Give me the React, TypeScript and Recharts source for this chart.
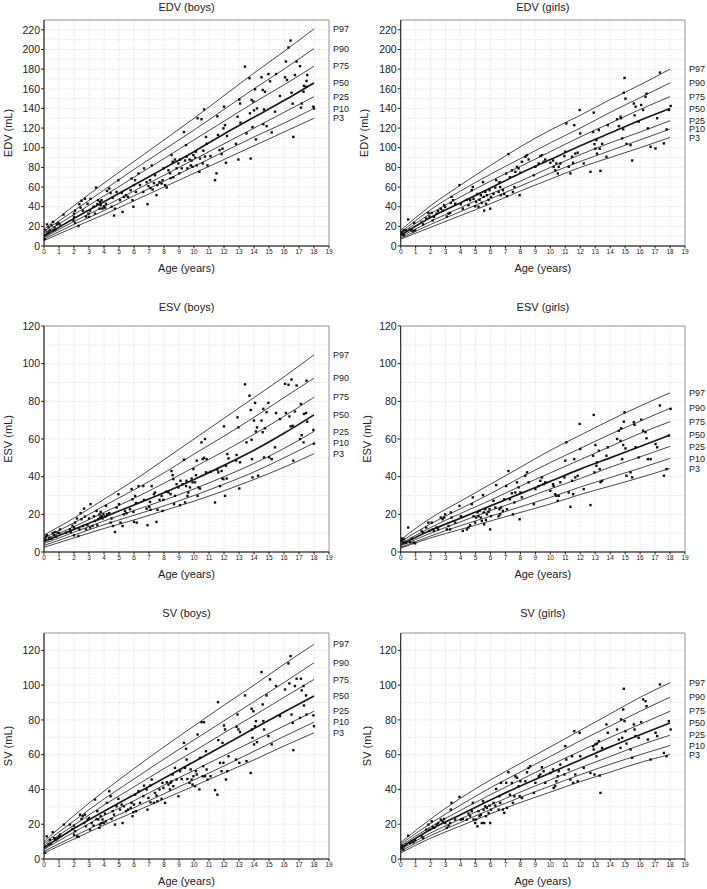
import React from "react";
import { ComposedChart, Line, Scatter, XAxis, YAxis, CartesianGrid, ReferenceArea, ReferenceDot } from "recharts";

const curveAges = [0, 2, 4, 6, 8, 10, 12, 14, 16, 18];
const pctNames = ["P97", "P90", "P75", "P50", "P25", "P10", "P3"];
const pctKeys = ["p97", "p90", "p75", "p50", "p25", "p10", "p3"];
const xTicks = [0, 1, 2, 3, 4, 5, 6, 7, 8, 9, 10, 11, 12, 13, 14, 15, 16, 17, 18, 19];

// curves, rows in order P97 .. P3
const edvBoysCurves = [
  [17, 41, 64, 86, 108, 130, 153, 176, 198, 221],
  [15, 36, 57, 78, 98, 118, 139, 160, 180, 201],
  [13, 32, 51, 70, 89, 108, 127, 146, 164, 183],
  [10, 28, 45, 62, 79, 96, 114, 131, 148, 166],
  [8.5, 25, 40, 56, 72, 88, 104, 120, 136, 152],
  [7, 22, 36, 51, 66, 81, 96, 111, 125, 140],
  [5.5, 19, 32, 46, 60, 74, 88, 102, 116, 130],
];
const edvGirlsCurves = [
  [16, 41, 62, 82, 101, 118, 133, 149, 164, 180],
  [14, 37, 56, 73, 89, 105, 120, 136, 151, 166],
  [12.5, 33, 50, 66, 81, 96, 111, 125, 139, 152],
  [11, 29, 44, 59, 74, 88, 102, 115, 128, 140],
  [9.5, 25, 39, 53, 66, 80, 93, 105, 116, 127.5],
  [8, 22, 35, 48, 61, 74, 86, 97, 108, 119],
  [7, 19, 31, 43, 56, 68, 80, 90, 100, 110.5],
];
const esvBoysCurves = [
  [9, 18, 28, 38, 49, 60, 71, 82, 93, 104.7],
  [7.5, 15.5, 24.5, 33, 42, 52, 61.5, 71.5, 82, 92.3],
  [6.5, 13.5, 21, 28.5, 36.5, 45, 53.5, 62.5, 72, 82.2],
  [5.5, 12, 18.5, 25, 31.5, 38.5, 46, 54, 63, 72.8],
  [4.5, 10.5, 16.5, 22, 27.5, 33.5, 40, 47, 55, 64],
  [3.5, 9, 14.5, 19.5, 24.5, 30, 36, 42.5, 50, 57.9],
  [2.5, 7.5, 12.5, 17, 22, 27, 32.5, 38.5, 45, 52.2],
];
const esvGirlsCurves = [
  [6.5, 18, 27, 36, 45, 54, 62, 70, 77.5, 84.5],
  [5.5, 15, 23, 31, 39.5, 47.5, 55, 62.5, 69.5, 76.3],
  [4.5, 13, 20.5, 27.5, 35, 42, 49, 56, 63, 69.2],
  [3.8, 11.5, 18, 24.5, 31, 37.5, 44, 50, 56, 62.1],
  [3.2, 10, 16, 22, 27.5, 33.5, 39, 45, 50.5, 56.1],
  [2.5, 8.5, 14, 19, 24, 29, 34.5, 39.5, 44.5, 49.7],
  [2, 7.5, 12, 16.5, 21, 25.5, 30.5, 35, 39.5, 44.4],
];
const svBoysCurves = [
  [10, 25, 39, 52, 64.5, 76.5, 88.5, 100, 112, 123.5],
  [9, 22, 34.5, 46, 57.5, 68.5, 79.5, 90.5, 101.5, 112.9],
  [8, 19.5, 31, 41.5, 52, 62, 72.5, 82.5, 93, 103.3],
  [6.5, 17.5, 27.5, 37, 46.5, 56, 65.5, 75, 84.5, 93.7],
  [5.5, 15.5, 25, 33.5, 42.5, 51, 59.5, 68, 76.5, 85],
  [4.5, 13, 21.5, 29.5, 37.5, 45.5, 53.5, 62, 70.5, 78.7],
  [3.5, 11.5, 19.5, 27, 34.5, 42, 49.5, 57, 65, 72.6],
];
const svGirlsCurves = [
  [9.5, 23, 35, 45.5, 55, 64.5, 74, 83.5, 93, 101.4],
  [8.5, 20.5, 31, 41, 50, 59, 68, 76.5, 85, 93.1],
  [7.5, 18.5, 28, 37, 45.5, 54, 62, 70, 77.5, 85],
  [6.5, 17, 25.5, 34, 42, 49.5, 57, 64.5, 71.5, 78.3],
  [5.5, 15, 23, 31, 38.5, 45.5, 52.5, 59, 65.5, 71.2],
  [4.5, 13.5, 21, 28.5, 35.5, 42, 48.5, 54.5, 60, 65.3],
  [3.5, 12, 19, 26, 32.5, 38.5, 44.5, 50, 55.5, 60.1],
];

// measured points [age, mL]
const edvBoysPts: [number, number][] = [
  [0.07, 11], [0.1, 16], [0.2, 22], [0.3, 19], [0.4, 16], [0.5, 21], [0.6, 24.5], [0.7, 19], [0.75, 16.7], [0.85, 22],
  [0.95, 23.5], [1.05, 22], [0.2, 12.6], [0.3, 14], [0.6, 16], [0.05, 7], [1.3, 32], [2, 29.6], [2, 33], [2.07, 36],
  [1.96, 26], [2.07, 23.5], [2.3, 20.4], [2.36, 42.5], [2.44, 39], [2.5, 46], [2.6, 36], [2.73, 48], [2.8, 30], [2.9, 43],
  [2.96, 33], [3, 29.6], [3.07, 36], [3.1, 48], [3.3, 40], [3.4, 33], [3.47, 59.5], [3.55, 42.5], [3.6, 46.6], [3.7, 38],
  [3.73, 45], [3.78, 41.5], [3.84, 46.6], [3.9, 38], [4, 40.5], [4.07, 39], [4.13, 43], [4.2, 56], [4.35, 58.5], [4.44, 54],
  [4.5, 40], [4.58, 49], [4.67, 31], [4.73, 38], [4.84, 55], [4.96, 67], [5.07, 46.6], [5.18, 54], [5.24, 34.7], [5.33, 50],
  [5.47, 51.7], [5.6, 50], [5.78, 56.8], [5.84, 68.7], [5.9, 46.6], [5.96, 40], [6, 62], [6.07, 67], [6.13, 55], [6.3, 73.8],
  [6.4, 62], [6.62, 55], [6.67, 79], [6.84, 65], [6.9, 42.5], [6.96, 61], [7.07, 67], [7.1, 59], [7.18, 82], [7.24, 57.5],
  [7.33, 64], [7.4, 72], [7.5, 51.7], [7.56, 62], [7.7, 65], [7.84, 63.6], [7.9, 67], [7.96, 79], [8.07, 62], [8.18, 59.5],
  [8.3, 77], [8.4, 74], [8.44, 69], [8.5, 92.5], [8.58, 85.7], [8.62, 70], [8.73, 88], [8.84, 79], [8.96, 84], [9.02, 74],
  [9.07, 88], [9.18, 79], [9.33, 116], [9.4, 87], [9.47, 102.7], [9.51, 91], [9.56, 79], [9.7, 88], [9.78, 82], [9.84, 87],
  [9.9, 80.6], [9.96, 92.5], [10.07, 90], [10.13, 96], [10.18, 82], [10.24, 130], [10.36, 75.5], [10.4, 89], [10.5, 129], [10.58, 84],
  [10.62, 97], [10.67, 139], [10.73, 91], [10.8, 111], [10.84, 104], [10.9, 82], [11.1, 91.5], [11.4, 67], [11.5, 74], [11.56, 132],
  [11.6, 113], [11.7, 97.6], [11.84, 93.5], [11.9, 99], [11.96, 119.7], [12, 141.8], [12.07, 123], [12.13, 84.7], [12.2, 112], [12.8, 104],
  [12.9, 131.6], [12.96, 88], [13.02, 149], [13.07, 145], [13.1, 125.5], [13.4, 182.6], [13.5, 114.6], [13.7, 170.7], [13.73, 135], [13.78, 89],
  [13.84, 148.6], [13.9, 121], [13.96, 147], [14, 138], [14.07, 159.5], [14.13, 108.5], [14.2, 140], [14.5, 171.7], [14.58, 158.8], [14.62, 124],
  [14.67, 139], [14.73, 157], [14.84, 122], [14.96, 175], [15.07, 167.6], [15.18, 115.6], [15.4, 136.7], [15.47, 175], [15.73, 152.7], [16.07, 171.7],
  [16.13, 187.7], [16.2, 169], [16.3, 202], [16.44, 209], [16.5, 156], [16.58, 144.8], [16.62, 111], [16.73, 174], [16.84, 187.7], [17.07, 183],
  [17.13, 140.8], [17.18, 145], [17.3, 157], [17.33, 163], [17.47, 162], [17.5, 168], [17.55, 174], [17.96, 141.8], [18, 140],
];
const edvGirlsPts: [number, number][] = [
  [0.07, 14], [0.1, 12.6], [0.2, 16], [0.2, 11], [0.35, 16], [0.5, 27], [0.6, 16.7], [0.75, 16], [0.85, 15], [0.96, 16],
  [0.9, 23.5], [1.4, 24.5], [1.5, 22], [1.7, 28], [1.85, 33.7], [1.92, 30], [2.07, 33.7], [2.14, 26], [2.23, 29.6], [2.4, 33],
  [2.5, 35.7], [2.68, 38], [2.8, 36], [2.9, 41.5], [2.97, 39.8], [3.08, 30], [3.2, 33], [3.3, 33.7], [3.35, 43.9], [3.4, 50],
  [3.5, 46.6], [3.64, 43], [3.93, 62], [4.02, 42.5], [4.15, 38], [4.42, 47], [4.53, 41.5], [4.64, 46.6], [4.75, 56.8], [4.82, 60],
  [4.87, 48], [4.98, 40.5], [5.04, 45], [5.13, 53], [5.2, 40], [5.27, 47], [5.36, 51.7], [5.42, 44], [5.5, 65], [5.54, 50],
  [5.58, 36], [5.65, 55], [5.7, 43], [5.76, 51.7], [5.87, 47], [5.94, 56.8], [5.98, 38], [6.03, 50], [6.2, 53], [6.32, 59.5],
  [6.38, 67], [6.54, 55], [6.6, 65], [6.65, 60], [6.7, 51.7], [6.83, 56.8], [6.92, 53], [7.05, 73.8], [7.1, 50.7], [7.2, 93.5],
  [7.3, 70], [7.43, 77], [7.5, 55], [7.6, 60], [7.66, 75.5], [7.77, 80.6], [7.88, 79], [7.95, 51.7], [8, 74.5], [8.1, 85.7],
  [8.33, 90.8], [8.44, 92.5], [8.55, 88], [8.9, 72], [9, 80.6], [9.22, 84], [9.33, 91.5], [9.44, 92.5], [9.55, 85.7], [9.66, 88],
  [10, 84.7], [10.18, 87], [10.22, 80.6], [10.33, 77], [10.4, 84], [10.5, 73.8], [10.56, 80.6], [10.67, 84], [10.94, 91.5], [11, 96],
  [11.07, 124.8], [11.23, 80.6], [11.34, 73.8], [11.45, 90.8], [11.52, 84.7], [11.6, 123], [11.67, 94], [11.83, 95], [11.96, 138.4], [12, 114.6],
  [12.23, 84], [12.68, 75.5], [12.86, 116], [12.9, 135.7], [12.95, 103.7], [13.01, 99], [13.08, 107.8], [13.12, 94], [13.24, 118], [13.3, 99],
  [13.35, 76.5], [13.46, 104], [13.75, 90.8], [13.84, 123], [14.46, 129], [14.58, 122], [14.69, 131.6], [14.73, 130], [14.8, 109.5], [14.87, 118.7],
  [14.91, 156], [14.96, 171], [15.02, 150], [15.09, 104], [15.36, 102.7], [15.47, 87], [15.58, 145], [15.63, 133], [15.7, 141.8], [15.9, 126.5],
  [16.07, 143.5], [16.2, 138.4], [16.36, 152], [16.43, 155], [16.52, 119.7], [16.7, 101], [17.03, 99.3], [17.14, 130], [17.32, 176.5], [17.59, 104.4],
  [17.77, 118.7], [17.92, 138.4], [18.04, 142.5],
];
const esvBoysPts: [number, number][] = [
  [0.07, 6.7], [0.13, 8.2], [0.2, 8.9], [0.35, 7.6], [0.5, 7.1], [0.58, 10], [0.67, 8.9], [0.73, 10.6], [0.8, 8.2], [0.9, 10.3],
  [1.02, 10], [1.07, 12], [1.47, 10.3], [1.73, 12], [1.78, 10.6], [1.9, 14], [2, 13], [2, 8.9], [2.07, 15.6], [2.2, 17.8],
  [2.3, 8.5], [2.36, 12], [2.44, 20.6], [2.5, 17.4], [2.6, 13.8], [2.67, 23], [2.73, 18.8], [2.8, 12], [2.9, 14.2], [3, 17.8],
  [3.07, 13], [3.1, 25.4], [3.24, 13.8], [3.33, 19], [3.4, 16.5], [3.5, 21.8], [3.55, 14.2], [3.62, 17.4], [3.7, 20], [3.73, 18.3],
  [3.78, 21.3], [3.84, 19], [3.9, 17.8], [3.96, 20], [4.07, 18.8], [4.13, 24.5], [4.2, 20], [4.35, 20.6], [4.44, 15.6], [4.5, 17.8],
  [4.6, 13.8], [4.73, 10.6], [4.84, 23.6], [4.96, 30.7], [5, 25.4], [5.1, 15.6], [5.24, 13.8], [5.33, 20], [5.4, 21.8], [5.5, 20.6],
  [5.73, 22.7], [5.84, 33.4], [5.9, 28], [5.96, 21.3], [6, 16], [6.07, 29.8], [6.13, 26], [6.18, 15.6], [6.3, 35], [6.62, 35],
  [6.67, 27.7], [6.84, 23], [6.9, 14.2], [7.02, 24], [7.07, 26.6], [7.1, 22.4], [7.18, 35], [7.33, 30.7], [7.4, 31.6], [7.5, 16],
  [7.56, 22.4], [7.7, 27.7], [7.84, 29.8], [7.9, 21.8], [7.96, 27.7], [8.13, 32], [8.3, 31.6], [8.44, 30.7], [8.5, 43], [8.58, 40.8],
  [8.62, 38.7], [8.67, 25.4], [8.73, 29.8], [8.84, 36], [8.96, 34.3], [9.07, 24.9], [9.1, 37.8], [9.24, 36], [9.33, 49], [9.4, 26.3],
  [9.47, 35], [9.5, 37.8], [9.56, 29.8], [9.62, 31.6], [9.73, 34.3], [9.84, 39], [9.9, 37], [9.96, 44], [10.07, 37], [10.13, 40.8],
  [10.18, 48.5], [10.24, 29.8], [10.3, 34.3], [10.4, 33.7], [10.5, 58.2], [10.58, 49.3], [10.67, 50], [10.73, 60], [10.8, 42.3], [10.84, 49.3],
  [11.1, 42.6], [11.4, 26.3], [11.56, 43.7], [11.62, 42.3], [11.73, 35], [11.84, 43], [11.9, 39], [11.96, 38.7], [12, 66.7], [12.07, 29.8],
  [12.13, 45.8], [12.18, 39], [12.22, 52], [12.3, 49.7], [12.8, 48.5], [12.84, 51.5], [12.9, 71.5], [12.96, 66.2], [13.02, 33.7], [13.07, 47.6],
  [13.4, 89], [13.5, 58.2], [13.7, 83], [13.78, 75.4], [13.84, 59.6], [13.86, 49.3], [13.9, 39.6], [14, 69.8], [14.07, 79.2], [14.13, 64],
  [14.2, 66.2], [14.27, 40.5], [14.5, 69.8], [14.58, 63.6], [14.62, 76], [14.67, 50.2], [14.73, 65.7], [14.84, 74.2], [14.96, 79.2], [15.02, 50.2],
  [15.18, 49.3], [15.4, 55.6], [15.47, 73.8], [15.73, 70.6], [16.07, 89.3], [16.13, 73.8], [16.3, 88.8], [16.36, 72], [16.44, 66.7], [16.5, 91.6],
  [16.58, 67], [16.62, 48.5], [16.73, 74.6], [16.84, 88.4], [17.07, 60], [17.13, 78.6], [17.18, 62], [17.3, 58.2], [17.33, 73.3], [17.47, 73.8],
  [17.5, 91], [17.55, 69.2], [17.96, 64.8], [18, 57.5],
];
const esvGirlsPts: [number, number][] = [
  [0.07, 5.9], [0.1, 7.1], [0.18, 5], [0.22, 6.7], [0.36, 5], [0.5, 13], [0.63, 5.3], [0.74, 7.1], [0.85, 5], [0.96, 4.6],
  [1.4, 11.2], [1.5, 10.3], [1.7, 13], [1.85, 15.6], [1.92, 11.2], [2.07, 15.6], [2.14, 12], [2.23, 11.2], [2.4, 13], [2.5, 12],
  [2.68, 18.3], [2.8, 17.4], [2.9, 18.3], [2.97, 20], [3.08, 12], [3.2, 13.8], [3.3, 12], [3.35, 21], [3.4, 18.3], [3.64, 15.6],
  [3.93, 24.5], [4.02, 19], [4.15, 11.2], [4.42, 12], [4.53, 13], [4.64, 14.2], [4.75, 25.4], [4.82, 29], [4.87, 19], [4.98, 15.6],
  [5.04, 18.3], [5.13, 21], [5.2, 19], [5.27, 21.8], [5.36, 18.3], [5.42, 16.5], [5.5, 30.2], [5.54, 21], [5.58, 14.7], [5.65, 22.7],
  [5.7, 17], [5.76, 20], [5.87, 21.3], [5.94, 22.7], [5.98, 12], [6.03, 19], [6.2, 27.2], [6.32, 23.6], [6.38, 35.5], [6.54, 19],
  [6.6, 22.7], [6.65, 20], [6.7, 23.6], [6.83, 21.8], [6.92, 28], [7.05, 35], [7.1, 22.7], [7.2, 43], [7.3, 28], [7.43, 31.2],
  [7.5, 20], [7.6, 26.3], [7.66, 31.6], [7.77, 37], [7.88, 34.3], [7.95, 17.4], [8, 31.6], [8.1, 29], [8.33, 40.5], [8.44, 42.3],
  [8.55, 37], [8.9, 25.4], [9, 33.4], [9.22, 35], [9.33, 37.8], [9.44, 39.6], [9.55, 36], [9.66, 37], [10, 32.5], [10.18, 36],
  [10.22, 35], [10.33, 30.7], [10.4, 29.8], [10.5, 27.2], [10.56, 29.8], [10.67, 37], [10.94, 39.6], [11, 48.5], [11.07, 58.2], [11.23, 31.6],
  [11.34, 24], [11.45, 37.8], [11.52, 30.7], [11.6, 49.3], [11.67, 39.6], [11.83, 40.5], [11.96, 68], [12, 54.7], [12.23, 33.4], [12.68, 24.9],
  [12.86, 51.1], [12.9, 72.8], [12.95, 42.3], [13.01, 56.8], [13.08, 45.8], [13.12, 47.6], [13.24, 53.8], [13.3, 44], [13.35, 37], [13.46, 37.8],
  [13.75, 51.1], [13.84, 55.6], [14.46, 60], [14.58, 64.4], [14.69, 59], [14.73, 65.7], [14.8, 49.3], [14.87, 56.8], [14.91, 69.2], [14.96, 74.2],
  [15.02, 55], [15.09, 40.5], [15.36, 42.3], [15.47, 39.6], [15.58, 68.9], [15.63, 67.5], [15.7, 55.6], [15.9, 50.2], [16.07, 70.3], [16.2, 64.4],
  [16.36, 63.6], [16.43, 60.4], [16.52, 49.3], [16.7, 49.3], [17.03, 57.3], [17.14, 55.6], [17.32, 77.8], [17.59, 40.5], [17.77, 44], [17.92, 61.8],
  [18.04, 76],
];
const svBoysPts: [number, number][] = [
  [0.07, 3.5], [0.1, 7.3], [0.18, 13], [0.3, 8.3], [0.4, 11], [0.44, 8.8], [0.58, 15.4], [0.67, 12], [0.73, 11.5], [0.8, 11],
  [0.9, 12], [1.02, 13], [1.07, 14], [1.33, 19.8], [1.73, 19.8], [1.9, 17.3], [2, 19.2], [2, 14], [2.07, 16], [2.2, 13],
  [2.3, 12.7], [2.4, 25.5], [2.5, 23], [2.58, 24.6], [2.67, 20.7], [2.73, 25.5], [2.8, 18.8], [2.9, 22.7], [3, 23.6], [3.07, 16.9],
  [3.18, 20.7], [3.3, 19.2], [3.4, 34.2], [3.5, 23], [3.55, 27.5], [3.62, 22.7], [3.7, 17.9], [3.73, 19.8], [3.78, 24.6], [3.84, 20.7],
  [3.9, 22.7], [4, 20.7], [4.07, 26.1], [4.13, 21.7], [4.2, 32.3], [4.35, 39], [4.44, 36.1], [4.5, 23], [4.58, 27.5], [4.67, 25.5],
  [4.73, 19.8], [4.84, 30.3], [4.96, 34.6], [5.07, 28.4], [5.18, 31.3], [5.24, 20.7], [5.33, 30.3], [5.47, 27.5], [5.6, 28.4], [5.78, 29.4],
  [5.84, 32.3], [5.9, 24.6], [5.96, 26.9], [6, 31.3], [6.07, 37], [6.13, 27.5], [6.3, 39], [6.4, 32.3], [6.62, 36.1], [6.67, 42.2],
  [6.84, 40], [6.9, 28.4], [6.96, 35.1], [7.07, 42.2], [7.1, 32.6], [7.18, 45.7], [7.33, 32.3], [7.4, 38], [7.5, 36.5], [7.56, 33.2],
  [7.7, 40], [7.84, 34.6], [7.9, 43.8], [7.96, 40.9], [8.07, 32.3], [8.18, 44.2], [8.3, 42.8], [8.4, 40], [8.44, 43.8], [8.5, 44.7],
  [8.58, 48.6], [8.62, 41.9], [8.73, 52.4], [8.84, 45.7], [8.96, 36.1], [9.07, 50.5], [9.18, 46], [9.33, 66.8], [9.4, 52.4], [9.47, 63.4],
  [9.51, 57.2], [9.56, 46], [9.7, 43.8], [9.78, 51.5], [9.84, 45.7], [9.9, 42.8], [9.96, 47.6], [10.07, 41.9], [10.13, 50.5], [10.18, 48.6],
  [10.24, 71.6], [10.36, 40], [10.4, 58.2], [10.5, 78.7], [10.58, 47.6], [10.62, 53.4], [10.67, 78.7], [10.73, 47.6], [10.8, 62], [10.84, 51.5],
  [10.9, 45.7], [11.1, 47.6], [11.4, 39.6], [11.56, 37], [11.6, 90.2], [11.62, 68.4], [11.73, 55.3], [11.84, 50.5], [11.9, 66.8], [11.96, 55.3],
  [12, 76.8], [12.07, 74.5], [12.13, 45.7], [12.22, 50.5], [12.3, 59.1], [12.8, 57.2], [12.84, 76], [12.9, 83.1], [12.96, 74.5], [13.02, 55.3],
  [13.07, 73], [13.4, 94.1], [13.5, 56.3], [13.78, 49.5], [13.84, 86.4], [13.86, 74.5], [13.9, 69.7], [13.96, 85], [14, 65.9], [14.07, 76.4],
  [14.13, 79.3], [14.2, 67.2], [14.5, 107.5], [14.58, 88.9], [14.62, 79.3], [14.67, 74.5], [14.84, 94.1], [14.96, 70.7], [15.07, 103.3], [15.18, 65.9],
  [15.47, 99.5], [15.73, 82.2], [16.07, 97.5], [16.3, 112.5], [16.36, 101], [16.44, 116.7], [16.5, 83.1], [16.58, 78.3], [16.62, 62.6], [16.73, 99.5],
  [16.84, 103.7], [17.07, 81.2], [17.13, 103.7], [17.18, 97], [17.3, 99.5], [17.33, 88.3], [17.47, 94.1], [17.5, 83.1], [17.96, 82.6], [18, 76.4],
];
const svGirlsPts: [number, number][] = [
  [0.07, 6.3], [0.1, 7.7], [0.18, 5.4], [0.22, 7.3], [0.36, 8.3], [0.5, 13.4], [0.63, 9.2], [0.74, 10.2], [0.85, 9.6], [0.96, 10.8],
  [1.4, 13], [1.5, 12.1], [1.7, 16.9], [1.85, 19.8], [1.92, 16.9], [2.07, 21.7], [2.14, 18.4], [2.23, 17.9], [2.4, 19.8], [2.5, 20.7],
  [2.68, 22.7], [2.8, 21.7], [2.9, 23], [2.97, 20.7], [3.08, 17.9], [3.2, 19.2], [3.3, 20.7], [3.35, 28.4], [3.4, 32.3], [3.64, 22.7],
  [3.93, 35.7], [4.02, 22.7], [4.15, 23], [4.42, 22.7], [4.53, 26.1], [4.64, 24.6], [4.75, 27.5], [4.82, 32.3], [4.87, 22.7], [4.98, 20.7],
  [5.04, 22.7], [5.13, 18.8], [5.2, 27.5], [5.27, 24.6], [5.36, 25.5], [5.42, 20.7], [5.5, 33.2], [5.54, 28.4], [5.58, 20.7], [5.65, 30.3],
  [5.7, 24.6], [5.76, 29.4], [5.87, 26.5], [5.94, 30.7], [5.98, 20.7], [6.03, 28.4], [6.2, 32.3], [6.32, 30.7], [6.38, 40.3], [6.54, 28.4],
  [6.6, 36.1], [6.65, 32.3], [6.7, 43.8], [6.83, 28.4], [6.92, 26.5], [7.05, 43.8], [7.1, 29.4], [7.2, 49.9], [7.3, 37], [7.43, 43.8],
  [7.5, 32.3], [7.6, 36.1], [7.66, 47.6], [7.77, 46.7], [7.88, 41.9], [7.95, 36.1], [8, 44.7], [8.1, 35.1], [8.33, 44.7], [8.44, 49.9],
  [8.55, 52.4], [8.66, 53.4], [8.9, 38], [9, 43.8], [9.22, 47.6], [9.33, 48.6], [9.44, 52.8], [9.55, 50.5], [9.66, 43.8], [10, 49.5],
  [10.18, 51.5], [10.22, 40.9], [10.33, 41.9], [10.4, 44.7], [10.5, 47.6], [10.56, 50.5], [10.67, 54.3], [10.94, 48.6], [11, 64.9], [11.07, 57.2],
  [11.23, 51.5], [11.34, 45.7], [11.45, 59.1], [11.52, 43.8], [11.6, 73.5], [11.67, 48.6], [11.83, 44.7], [11.96, 72.6], [12, 59.1], [12.23, 52.4],
  [12.68, 49.5], [12.86, 64.9], [12.9, 63], [12.95, 48.6], [13.01, 65.9], [13.08, 59.1], [13.12, 66.4], [13.24, 67.8], [13.3, 48], [13.35, 38],
  [13.46, 63.9], [13.75, 77.4], [13.84, 72.6], [14.46, 74.5], [14.58, 68.7], [14.69, 63.9], [14.73, 80.3], [14.8, 69.7], [14.87, 86], [14.91, 97.9],
  [14.96, 79.3], [15.02, 73.5], [15.09, 66.4], [15.36, 63], [15.47, 58.2], [15.58, 77.4], [15.63, 74.5], [15.7, 70.7], [15.9, 69.7], [16.07, 78.7],
  [16.2, 91.8], [16.36, 90.8], [16.43, 87.9], [16.52, 68.7], [16.7, 57.2], [17.03, 72.6], [17.14, 70.7], [17.32, 100.4], [17.59, 61], [17.77, 59.1],
  [17.92, 79.3], [18.04, 74.5],
];

const edvTicks = [0, 20, 40, 60, 80, 100, 120, 140, 160, 180, 200, 220];
const esvTicks = [0, 20, 40, 60, 80, 100, 120];
const svTicks = [0, 20, 40, 60, 80, 100, 120];

const FONT = "'Liberation Sans', Arial, Helvetica, sans-serif";
const INK = "#222";

function makeRows(curves: number[][]) {
  return curveAges.map((x, i) => {
    const row: Record<string, number> = { x };
    pctKeys.forEach((k, j) => (row[k] = curves[j][i]));
    return row;
  });
}

const Dot = (props: any) => {
  const { cx, cy } = props;
  if (cx == null || cy == null) return null;
  return <rect x={cx - 1.2} y={cy - 1.2} width={2.4} height={2.4} fill="#111" />;
};

interface PanelProps {
  title: string;
  yLabel: string;
  yMax: number;
  yTicks: number[];
  curves: number[][];
  points: [number, number][];
  left: number;
  top: number;
  width: number;
  axisWidth: number;
  rightMargin: number;
  yLabelX: number;
  titleY: number;
}

const PLOT_TOP = 20;
const PLOT_H = 226;
const XAXIS_H = 26;
const BOTTOM_PAD = 6;

function Panel(p: PanelProps) {
  const rows = makeRows(p.curves);
  const pts = p.points.map(([x, v]) => ({ x, v }));
  const gridY: number[] = [];
  for (let v = 10; v < p.yMax; v += 10) gridY.push(v);
  const plotLeft = p.left + p.axisWidth;
  const plotRight = p.left + p.width - p.rightMargin;
  return (
    <>
      <div
        style={{
          position: "absolute",
          left: (plotLeft + plotRight) / 2,
          top: p.titleY,
          transform: "translate(-50%, -50%)",
          fontSize: 11,
          lineHeight: 1,
          whiteSpace: "nowrap",
          color: INK,
        }}
      >
        {p.title}
      </div>
      <div
        style={{
          position: "absolute",
          left: p.yLabelX,
          top: p.top + PLOT_TOP + PLOT_H / 2,
          transform: "translate(-50%, -50%) rotate(-90deg)",
          fontSize: 11,
          lineHeight: 1,
          whiteSpace: "nowrap",
          color: INK,
        }}
      >
        {p.yLabel}
      </div>
      <div style={{ position: "absolute", left: p.left, top: p.top }}>
        <ComposedChart
          width={p.width}
          height={PLOT_TOP + PLOT_H + XAXIS_H + BOTTOM_PAD}
          data={rows}
          margin={{ top: PLOT_TOP, right: p.rightMargin, bottom: BOTTOM_PAD, left: 0 }}
        >
          <CartesianGrid
            stroke="#c4c4c4"
            strokeDasharray="1 1.5"
            strokeWidth={0.6}
            horizontalValues={gridY}
            verticalValues={xTicks.slice(1, -1)}
          />
          <XAxis
            type="number"
            dataKey="x"
            domain={[0, 19]}
            ticks={xTicks}
            interval={0}
            height={XAXIS_H}
            tickSize={2.5}
            tickMargin={1}
            tick={{ fontSize: 6.5, fill: INK }}
            stroke={INK}
            label={{ value: "Age (years)", position: "insideBottom", offset: 0, fontSize: 11, fill: INK }}
          />
          <YAxis
            type="number"
            domain={[0, p.yMax]}
            ticks={p.yTicks}
            interval={0}
            width={p.axisWidth}
            tickSize={3}
            tickMargin={1}
            tick={{ fontSize: 10.5, fill: INK }}
            stroke={INK}
          />
          <ReferenceArea x1={0} x2={19} y1={0} y2={p.yMax} fill="none" stroke="#777" strokeWidth={0.8} />
          {pctKeys.map((k) => (
            <Line
              key={k}
              dataKey={k}
              type="monotone"
              stroke="#1a1a1a"
              strokeWidth={k === "p50" ? 1.7 : 0.8}
              dot={false}
              activeDot={false}
              isAnimationActive={false}
            />
          ))}
          <Scatter data={pts} dataKey="v" shape={<Dot />} isAnimationActive={false} />
          {pctKeys.map((k, j) => (
            <ReferenceDot
              key={"lab" + k}
              x={19}
              y={p.curves[j][p.curves[j].length - 1]}
              r={0}
              fill="none"
              stroke="none"
              label={{ value: pctNames[j], position: "right", offset: 4, fontSize: 9, fill: INK }}
            />
          ))}
        </ComposedChart>
      </div>
    </>
  );
}

const LEFT = { left: 0, width: 354, axisWidth: 44, rightMargin: 25 };
const RIGHT = { left: 354, width: 353, axisWidth: 46.7, rightMargin: 22 };

export default function App() {
  return (
    <div
      style={{
        position: "absolute",
        left: 0,
        top: 0,
        width: 707,
        height: 889,
        background: "#fff",
        fontFamily: FONT,
        overflow: "hidden",
      }}
    >
      <Panel {...LEFT} top={0} titleY={7} yLabelX={7.5} title="EDV (boys)" yLabel="EDV (mL)" yMax={230} yTicks={edvTicks} curves={edvBoysCurves} points={edvBoysPts} />
      <Panel {...RIGHT} top={0} titleY={7} yLabelX={363.5} title="EDV (girls)" yLabel="EDV (mL)" yMax={230} yTicks={edvTicks} curves={edvGirlsCurves} points={edvGirlsPts} />
      <Panel {...LEFT} top={305.7} titleY={306.7} yLabelX={8.3} title="ESV (boys)" yLabel="ESV (mL)" yMax={120} yTicks={esvTicks} curves={esvBoysCurves} points={esvBoysPts} />
      <Panel {...RIGHT} top={305.7} titleY={306.7} yLabelX={367.3} title="ESV (girls)" yLabel="ESV (mL)" yMax={120} yTicks={esvTicks} curves={esvGirlsCurves} points={esvGirlsPts} />
      <Panel {...LEFT} top={613.3} titleY={612.7} yLabelX={7.5} title="SV (boys)" yLabel="SV (mL)" yMax={130} yTicks={svTicks} curves={svBoysCurves} points={svBoysPts} />
      <Panel {...RIGHT} top={613.3} titleY={612.7} yLabelX={367} title="SV (girls)" yLabel="SV (mL)" yMax={130} yTicks={svTicks} curves={svGirlsCurves} points={svGirlsPts} />
    </div>
  );
}
